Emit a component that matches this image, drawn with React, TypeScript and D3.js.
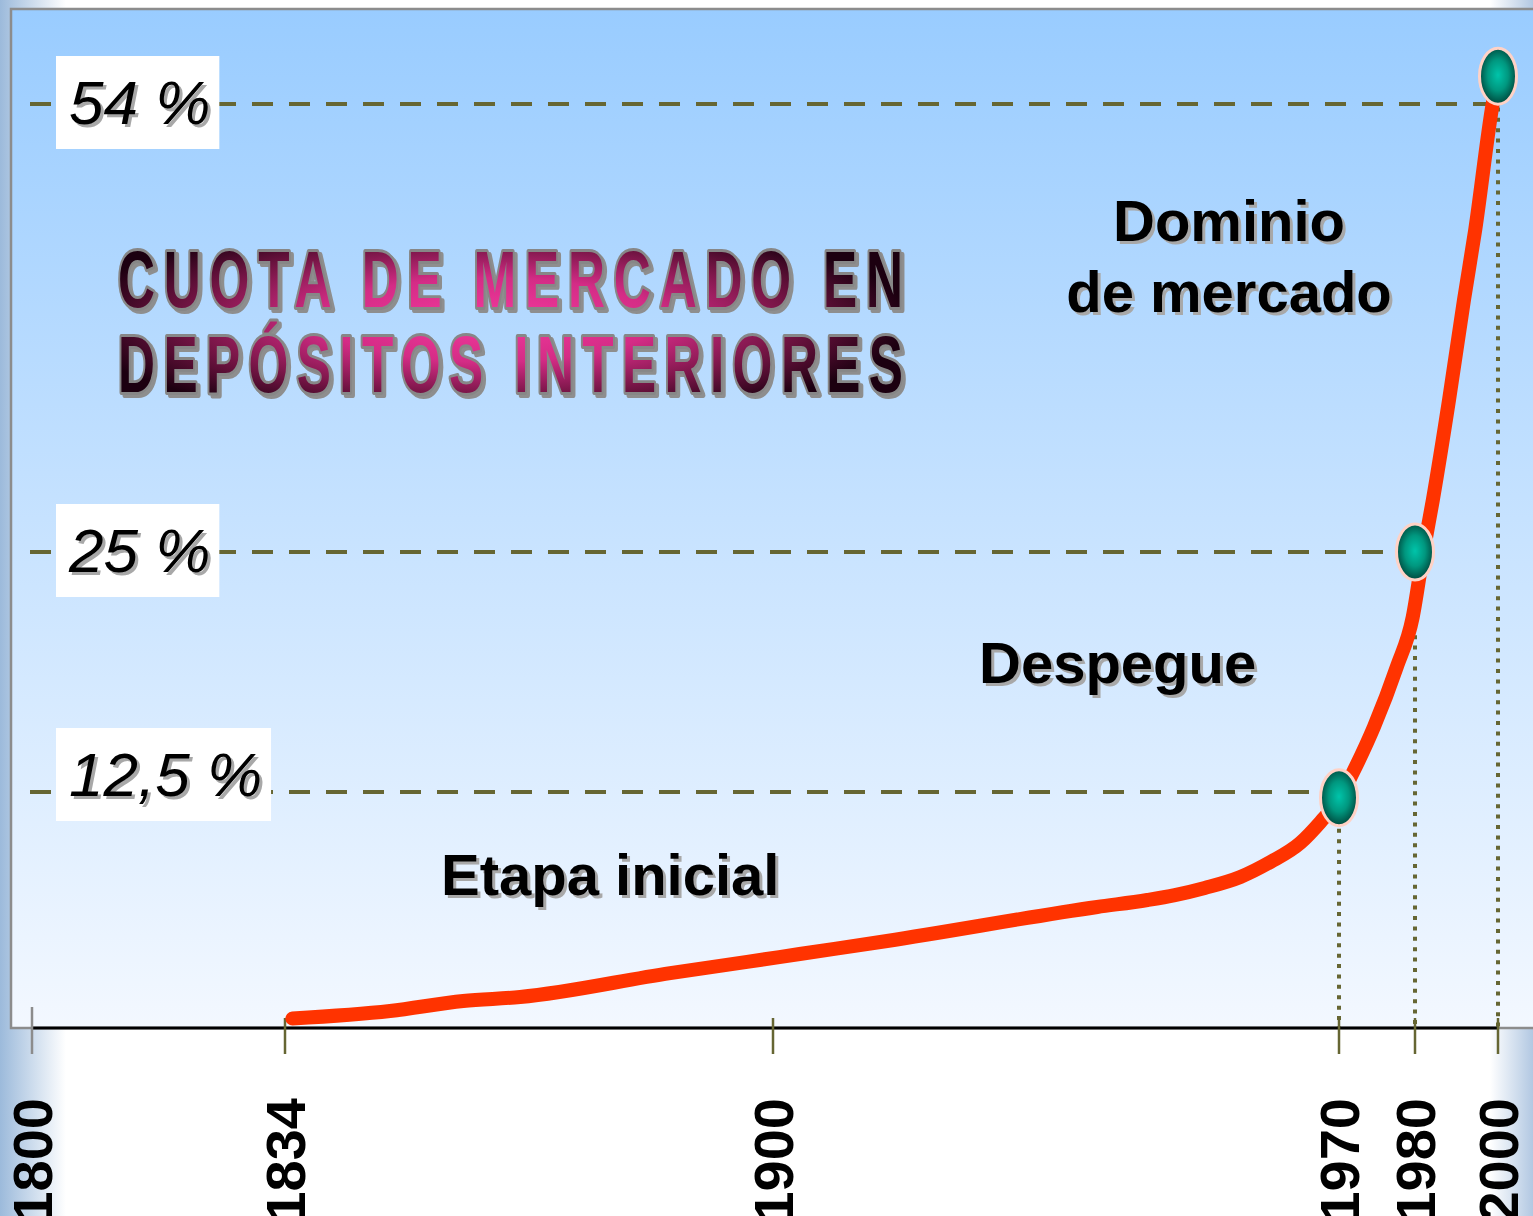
import React, { useEffect, useRef } from "react";
import * as d3 from "d3";

const W = 1533;
const H = 1216;

// ---- data ----
const tickYears = [1800, 1834, 1900, 1970, 1980, 2000];
const tickLabels = ["1800", "1834", "1900", "1970", "1980", "2000"];
const levelValues = [54, 25, 12.5];
const levelLabels = ["54 %", "25 %", "12,5 %"];
const curveYears = [1835, 1848.2, 1858.1, 1865.8, 1886.1, 1896.5, 1903.3, 1914.1, 1940.1, 1946.3, 1949.7, 1953.4, 1957.8, 1961.5, 1965.2, 1967.7, 1970.1, 1971.8, 1974.6, 1977.6, 1979.7, 1981.9, 1984.3, 1988.2, 1991.8, 1994.5, 1998.8, 2000];
const curveShares = [0.5, 0.9, 1.43, 1.64, 2.91, 3.5, 3.92, 4.61, 6.41, 6.78, 7.04, 7.42, 8.0, 8.79, 9.8, 10.91, 12.18, 13.49, 15.89, 19.01, 21.61, 24.84, 28.37, 34.84, 41.31, 45.84, 54.13, 55.8];
const milestoneYears = [2000, 1980, 1970];
const milestoneShares = [55.8, 25, 12.2];
const titleLines = ["CUOTA DE MERCADO EN", "DEPÓSITOS INTERIORES"];
const stageTexts = ["Dominio", "de mercado", "Despegue", "Etapa inicial"];

// ---- layout (screen geometry, not data) ----
const X_RANGE = [32, 285, 773, 1339, 1415, 1498];
const Y_DOMAIN = [0, 12.5, 25, 54];
const Y_RANGE = [1028, 792, 552, 104];
const PLOT = { x: 11, y: 9 };
const LABEL_SHIFT = [0, 0, -16];
const STAGE_POS = [
  { x: 1229, y: 241, anchor: "middle" },
  { x: 1229, y: 312, anchor: "middle" },
  { x: 979, y: 683, anchor: "start" },
  { x: 441, y: 895, anchor: "start" },
];
const TITLE = { x: 118, y: [307, 392], width: 785, size: 80, sx: 0.64 };

export default function App() {
  const ref = useRef<SVGSVGElement | null>(null);

  useEffect(() => {
    const svg = d3.select(ref.current as SVGSVGElement);
    svg.selectAll("*").remove();
    const defs = svg.append("defs");

    const x = d3.scaleLinear().domain(tickYears).range(X_RANGE);
    const y = d3.scaleLinear().domain(Y_DOMAIN).range(Y_RANGE);
    const y0 = y(0);

    // gradients
    const bg = defs.append("linearGradient").attr("id", "bg").attr("x1", 0).attr("x2", 1).attr("y1", 0).attr("y2", 0);
    ([[0, "#9CBADB"], [0.043, "#FFFFFF"], [0.972, "#FFFFFF"], [1, "#B2C8E2"]] as [number, string][]).forEach(([o, c]) =>
      bg.append("stop").attr("offset", o).attr("stop-color", c)
    );
    const pg = defs.append("linearGradient").attr("id", "plotbg").attr("x1", 0).attr("x2", 0).attr("y1", 0).attr("y2", 1);
    pg.append("stop").attr("offset", 0).attr("stop-color", "#99CCFF");
    pg.append("stop").attr("offset", 1).attr("stop-color", "#F3F8FF");

    const teal = defs.append("radialGradient").attr("id", "teal").attr("cx", "50%").attr("cy", "48%").attr("r", "55%");
    teal.append("stop").attr("offset", 0).attr("stop-color", "#00C4AA");
    teal.append("stop").attr("offset", 0.5).attr("stop-color", "#00977F");
    teal.append("stop").attr("offset", 1).attr("stop-color", "#003F35");

    // title gradient in the title group's local coordinates
    const cxL = (490 - TITLE.x) / TITLE.sx;
    const cyL = 320;
    const rxL = 420 / TITLE.sx;
    const ratio = 105 / rxL;
    const tg = defs
      .append("radialGradient")
      .attr("id", "titlegrad")
      .attr("gradientUnits", "userSpaceOnUse")
      .attr("cx", cxL)
      .attr("cy", cyL)
      .attr("r", rxL)
      .attr("gradientTransform", `translate(${cxL},${cyL}) scale(1,${ratio}) translate(${-cxL},${-cyL})`);
    ([[0, "#F43A9E"], [0.4, "#D42C86"], [0.7, "#7A1648"], [1, "#1C0010"]] as [number, string][]).forEach(([o, c]) =>
      tg.append("stop").attr("offset", o).attr("stop-color", c)
    );

    // slide background
    svg.append("rect").attr("x", 0).attr("y", 0).attr("width", W).attr("height", H).attr("fill", "url(#bg)");

    // plot area
    svg
      .append("rect")
      .attr("x", PLOT.x)
      .attr("y", PLOT.y)
      .attr("width", W - PLOT.x + 10)
      .attr("height", y0 - PLOT.y)
      .attr("fill", "url(#plotbg)")
      .attr("stroke", "#8C8C8C")
      .attr("stroke-width", 2.5);

    const olive = "#666633";

    // dashed level lines
    levelValues.forEach((v, i) => {
      const mx = x(milestoneYears[i]);
      svg
        .append("line")
        .attr("x1", x(1800) - 2)
        .attr("x2", mx - 10)
        .attr("y1", y(v))
        .attr("y2", y(v))
        .attr("stroke", olive)
        .attr("stroke-width", 4)
        .attr("stroke-dasharray", "21 16");
    });

    // dotted verticals
    milestoneYears.forEach((yr, i) => {
      svg
        .append("line")
        .attr("x1", x(yr))
        .attr("x2", x(yr))
        .attr("y1", y(milestoneShares[i]))
        .attr("y2", y0)
        .attr("stroke", olive)
        .attr("stroke-width", 4)
        .attr("stroke-dasharray", "4 6.4");
    });

    // axis line
    svg
      .append("line")
      .attr("x1", x(1800))
      .attr("x2", x(2000))
      .attr("y1", y0)
      .attr("y2", y0)
      .attr("stroke", "#000")
      .attr("stroke-width", 3);

    // ticks
    tickYears.forEach((yr, i) => {
      svg
        .append("line")
        .attr("x1", x(yr))
        .attr("x2", x(yr))
        .attr("y1", y0 - (i === 0 ? 21 : 10))
        .attr("y2", y0 + 26)
        .attr("stroke", i === 0 ? "#8C8C8C" : olive)
        .attr("stroke-width", 2.5);
      svg
        .append("text")
        .attr("transform", `translate(${x(yr)},${1098}) rotate(-90)`)
        .attr("text-anchor", "end")
        .attr("dy", "0.36em")
        .attr("font-family", "'Liberation Sans', Arial, sans-serif")
        .attr("font-weight", "bold")
        .attr("font-size", 56)
        .attr("fill", "#000")
        .text(tickLabels[i]);
    });

    // curve
    const pts = curveYears.map((yr, i) => [x(yr), y(curveShares[i])] as [number, number]);
    const line = d3.line().curve(d3.curveMonotoneX);
    svg
      .append("path")
      .attr("d", line(pts) as string)
      .attr("fill", "none")
      .attr("stroke", "#FF3300")
      .attr("stroke-width", 14)
      .attr("stroke-linecap", "round")
      .attr("stroke-linejoin", "round");

    // markers
    milestoneYears.forEach((yr, i) => {
      svg
        .append("ellipse")
        .attr("cx", x(yr))
        .attr("cy", y(milestoneShares[i]))
        .attr("rx", 18.5)
        .attr("ry", 28)
        .attr("fill", "url(#teal)")
        .attr("stroke", "#FFD2C6")
        .attr("stroke-width", 3);
    });

    // level label boxes
    levelValues.forEach((v, i) => {
      const ly = y(v) + LABEL_SHIFT[i];
      const g = svg.append("g");
      const box = g.append("rect").attr("fill", "#FFFFFF");
      const common = (t: any) =>
        t
          .attr("font-family", "'Liberation Sans', Arial, sans-serif")
          .attr("font-style", "italic")
          .attr("font-size", 62)
          .text(levelLabels[i]);
      common(g.append("text").attr("x", 69 + 3).attr("y", ly + 20 + 3).attr("fill", "#A8A8A8"));
      const t = common(g.append("text").attr("x", 69).attr("y", ly + 20).attr("fill", "#000"));
      const w = (t.node() as SVGTextElement).getComputedTextLength();
      box
        .attr("x", 56)
        .attr("y", ly - 48)
        .attr("width", w + 22)
        .attr("height", 93);
    });

    // stage annotations
    stageTexts.forEach((s, i) => {
      const p = STAGE_POS[i];
      [
        { dx: 3, fill: "#A8A8A8" },
        { dx: 0, fill: "#000" },
      ].forEach((l) => {
        svg
          .append("text")
          .attr("x", p.x + l.dx)
          .attr("y", p.y + l.dx)
          .attr("text-anchor", p.anchor)
          .attr("font-family", "'Liberation Sans', Arial, sans-serif")
          .attr("font-weight", "bold")
          .attr("font-size", 58)
          .attr("fill", l.fill)
          .text(s);
      });
    });

    // title
    const tgG = svg.append("g").attr("transform", `translate(${TITLE.x},0) scale(${TITLE.sx},1)`);
    titleLines.forEach((s, i) => {
      const layers = [
        { dx: 3 / TITLE.sx, dy: 3, fill: "#8E8E8E", stroke: "#8E8E8E" },
        { dx: 0, dy: 0, fill: "url(#titlegrad)", stroke: "#878787" },
      ];
      layers.forEach((l) => {
        tgG
          .append("text")
          .attr("x", l.dx)
          .attr("y", TITLE.y[i] + l.dy)
          .attr("font-family", "'Liberation Sans', Arial, sans-serif")
          .attr("font-weight", "bold")
          .attr("font-size", TITLE.size)
          .attr("textLength", TITLE.width / TITLE.sx)
          .attr("lengthAdjust", "spacing")
          .attr("fill", l.fill)
          .attr("stroke", l.stroke)
          .attr("stroke-width", 5)
          .attr("paint-order", "stroke")
          .attr("stroke-linejoin", "round")
          .attr("vector-effect", "non-scaling-stroke")
          .text(s);
      });
    });
  }, []);

  return (
    <svg
      ref={ref}
      width={W}
      height={H}
      style={{ position: "absolute", left: 0, top: 0, display: "block" }}
    />
  );
}
